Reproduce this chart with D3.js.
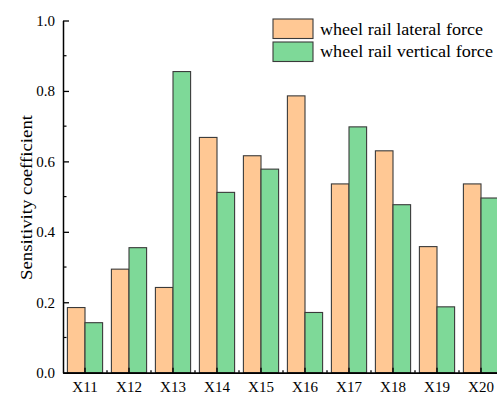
<!DOCTYPE html>
<html>
<head>
<meta charset="utf-8">
<script src="https://cdn.jsdelivr.net/npm/d3@7"></script>
<style>
  html, body { margin: 0; padding: 0; background: #fff; overflow: hidden; }
  svg { display: block; }
  svg text { font-family: "Liberation Serif", "Times New Roman", "DejaVu Serif", serif !important; fill: #000; }
</style>
</head>
<body>
<svg id="chart" width="497" height="394"></svg>
<script>
const categories = ["X11", "X12", "X13", "X14", "X15", "X16", "X17", "X18", "X19", "X20"];
const lateralForce = [0.185, 0.294, 0.242, 0.668, 0.616, 0.786, 0.536, 0.630, 0.358, 0.536];
const verticalForce = [0.142, 0.355, 0.855, 0.512, 0.578, 0.171, 0.698, 0.477, 0.187, 0.496];
const seriesNames = ["wheel rail lateral force", "wheel rail vertical force"];
const seriesColors = ["#FFC894", "#7ED998"];
const yTicks = [0.0, 0.2, 0.4, 0.6, 0.8, 1.0];
const yMinorTicks = [0.1, 0.3, 0.5, 0.7, 0.9];

const svg = d3.select("#chart");
const plotLeft = 63, plotRight = 503, plotTop = 20.5, plotBottom = 372.7;

const x = d3.scaleBand().domain(categories).range([plotLeft, plotRight]).paddingInner(0.2).paddingOuter(0.1);
const xs = d3.scaleBand().domain([0, 1]).range([0, x.bandwidth()]);
const y = d3.scaleLinear().domain([0, 1]).range([plotBottom, plotTop]);

const rows = categories.map((c, i) => ({ cat: c, vals: [lateralForce[i], verticalForce[i]] }));

// bars
const g = svg.append("g");
rows.forEach(r => {
  r.vals.forEach((v, s) => {
    g.append("rect")
      .attr("x", x(r.cat) + xs(s))
      .attr("y", y(v))
      .attr("width", xs.bandwidth())
      .attr("height", y(0) - y(v))
      .attr("fill", seriesColors[s])
      .attr("stroke", "#3a3a3a")
      .attr("stroke-width", 1.1);
  });
});

// y axis
const yAxis = d3.axisLeft(y).tickValues(yTicks).tickFormat(d3.format(".1f")).tickSizeInner(-6).tickSizeOuter(0).tickPadding(8);
const ya = svg.append("g").attr("transform", `translate(${plotLeft},0)`).call(yAxis);
ya.attr("font-family", null).attr("font-size", null);
ya.select(".domain").attr("stroke", "#000").attr("stroke-width", 1.5);
ya.selectAll(".tick line").attr("stroke", "#000").attr("stroke-width", 1.3);
ya.selectAll(".tick text").attr("font-size", 15);
ya.selectAll(".minor").data(yMinorTicks).enter().append("line")
  .attr("x1", 0).attr("x2", 3.5).attr("y1", d => y(d)).attr("y2", d => y(d))
  .attr("stroke", "#000").attr("stroke-width", 1.2);

// x axis
const xAxis = d3.axisBottom(x).tickSizeInner(-5).tickSizeOuter(0);
const xa = svg.append("g").attr("transform", `translate(0,${plotBottom})`).call(xAxis);
xa.attr("font-family", null).attr("font-size", null);
xa.select(".domain").attr("stroke", "#000").attr("stroke-width", 1.8);
xa.selectAll(".tick line").attr("stroke", "#000").attr("stroke-width", 1.3);
xa.selectAll(".tick text").attr("font-size", 15).attr("y", 19.3).attr("dy", 0);
xa.selectAll(".minor").data(categories.slice(1)).enter().append("line")
  .attr("x1", d => x(d) - x.step() * x.paddingInner() / 2)
  .attr("x2", d => x(d) - x.step() * x.paddingInner() / 2)
  .attr("y1", 0).attr("y2", -2.5)
  .attr("stroke", "#000").attr("stroke-width", 1.3);

// y title
svg.append("text")
  .attr("transform", "translate(32,197.5) rotate(-90)")
  .attr("text-anchor", "middle")
  .attr("font-size", 17)
  .attr("textLength", 165)
  .attr("lengthAdjust", "spacingAndGlyphs")
  .text("Sensitivity coefficient");

// legend
const lg = svg.append("g").attr("transform", "translate(273,19)");
seriesNames.forEach((n, i) => {
  lg.append("rect").attr("x", 0).attr("y", i * 23).attr("width", 40).attr("height", 19.5)
    .attr("fill", seriesColors[i]).attr("stroke", "#3a3a3a").attr("stroke-width", 1.1);
  lg.append("text").attr("x", 47).attr("y", i * 22 + 16).attr("font-size", 17)
    .attr("textLength", i === 0 ? 163 : 173)
    .attr("lengthAdjust", "spacingAndGlyphs")
    .text(n);
});
</script>
</body>
</html>
